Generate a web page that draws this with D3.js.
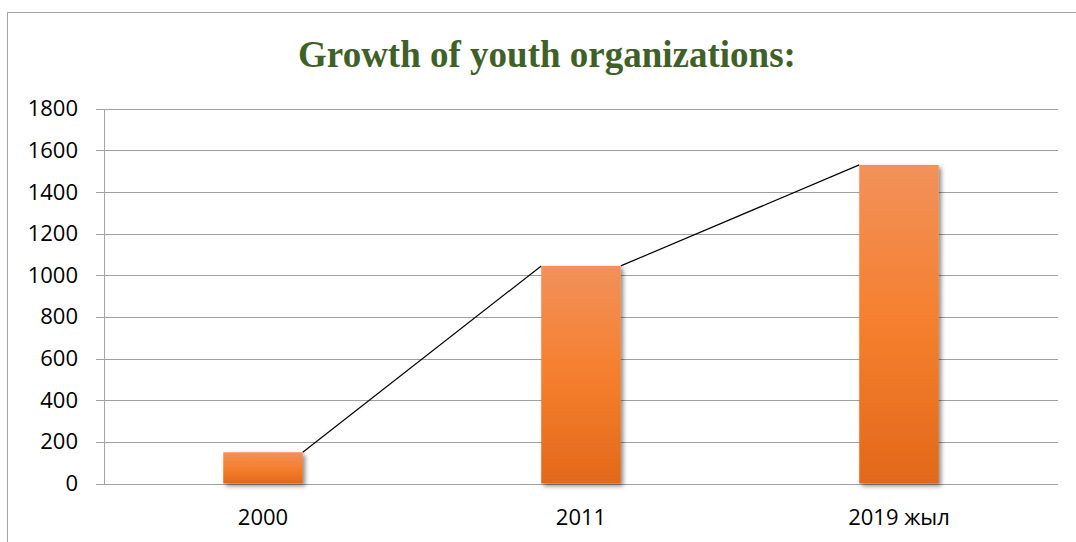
<!DOCTYPE html>
<html>
<head>
<meta charset="utf-8">
<script src="https://cdn.jsdelivr.net/npm/d3@7"></script>
<style>
  html, body { margin: 0; padding: 0; background: #fff; }
  svg { display: block; }
</style>
</head>
<body>
<svg id="chart" width="1076" height="542"></svg>
<script>
// Chart data
const title = "Growth of youth organizations:";
const categories = ["2000", "2011", "2019 жыл"];
const values = [150, 1045, 1530];
const yTicks = [0, 200, 400, 600, 800, 1000, 1200, 1400, 1600, 1800];

const W = 1076, H = 542;
const plot = { left: 104, right: 1058, top: 108.7, bottom: 483.5 };

const svg = d3.select("#chart");

// Gradient fill and soft shadow for the bars
const defs = svg.append("defs");
const grad = defs.append("linearGradient")
  .attr("id", "barFill").attr("x1", 0).attr("y1", 0).attr("x2", 0).attr("y2", 1);
grad.append("stop").attr("offset", "0%").attr("stop-color", "#F2915A");
grad.append("stop").attr("offset", "50%").attr("stop-color", "#F57F2E");
grad.append("stop").attr("offset", "100%").attr("stop-color", "#E2681A");

const shadow = defs.append("filter").attr("id", "barShadow")
  .attr("x", "-20%").attr("y", "-20%").attr("width", "150%").attr("height", "150%");
shadow.append("feDropShadow")
  .attr("dx", 2.5).attr("dy", 2.5).attr("stdDeviation", 2)
  .attr("flood-color", "#000").attr("flood-opacity", 0.45);

// Outer frame (right and bottom edges lie outside the view)
svg.append("rect")
  .attr("x", 7.5).attr("y", 12.5)
  .attr("width", W + 20).attr("height", H + 20)
  .attr("fill", "none").attr("stroke", "#A6A6A6").attr("stroke-width", 1);

// Title
svg.append("text")
  .attr("x", 547).attr("y", 67)
  .attr("text-anchor", "middle")
  .attr("font-family", "'Liberation Serif', 'Times New Roman', serif")
  .attr("font-weight", "bold")
  .attr("font-size", 37)
  .attr("fill", "#3F6128")
  .text(title);

// Scales
const x = d3.scaleBand().domain(categories).range([plot.left, plot.right]).padding(0);
const y = d3.scaleLinear().domain([0, 1800]).range([plot.bottom, plot.top]);
const barW = x.bandwidth() * 0.25;

// Gridlines
svg.append("g").selectAll("line").data(yTicks).join("line")
  .attr("x1", plot.left - 8).attr("x2", plot.right)
  .attr("y1", d => Math.round(y(d)) + 0.5).attr("y2", d => Math.round(y(d)) + 0.5)
  .attr("stroke", "#A0A0A0").attr("stroke-width", 1);

// Vertical axis line
svg.append("line")
  .attr("x1", plot.left + 0.5).attr("x2", plot.left + 0.5)
  .attr("y1", Math.round(y(1800))).attr("y2", Math.round(y(0)) + 1)
  .attr("stroke", "#A6A6A6").attr("stroke-width", 1);

// Y-axis labels
const yAxis = d3.axisLeft(y).tickValues(yTicks).tickFormat(d3.format("d")).tickSize(0).tickPadding(26);
const gy = svg.append("g").attr("transform", `translate(${plot.left},0)`).call(yAxis);
gy.select(".domain").remove();
gy.selectAll("text")
  .attr("font-family", "'Open Sans', 'Liberation Sans', sans-serif")
  .attr("font-size", 22)
  .attr("fill", "#000");

// X-axis labels
const xAxis = d3.axisBottom(x).tickSize(0).tickPadding(26);
const gx = svg.append("g").attr("transform", `translate(0,${plot.bottom})`).call(xAxis);
gx.select(".domain").remove();
gx.selectAll("text")
  .attr("font-family", "'Open Sans', 'Liberation Sans', sans-serif")
  .attr("font-size", 22)
  .attr("fill", "#000");

// Connector segments between neighbouring bar tops
const segs = d3.pairs(categories.map((c, i) => ({ c, v: values[i] })));
svg.append("g").selectAll("line").data(segs).join("line")
  .attr("x1", d => x(d[0].c) + x.bandwidth() / 2 + barW / 2)
  .attr("y1", d => y(d[0].v))
  .attr("x2", d => x(d[1].c) + x.bandwidth() / 2 - barW / 2)
  .attr("y2", d => y(d[1].v))
  .attr("stroke", "#000").attr("stroke-width", 1.2);

// Bars
svg.append("g").selectAll("rect").data(values).join("rect")
  .attr("x", (d, i) => x(categories[i]) + x.bandwidth() / 2 - barW / 2)
  .attr("y", d => y(d))
  .attr("width", barW)
  .attr("height", d => y(0) - y(d))
  .attr("fill", "url(#barFill)")
  .attr("filter", "url(#barShadow)");
</script>
</body>
</html>
